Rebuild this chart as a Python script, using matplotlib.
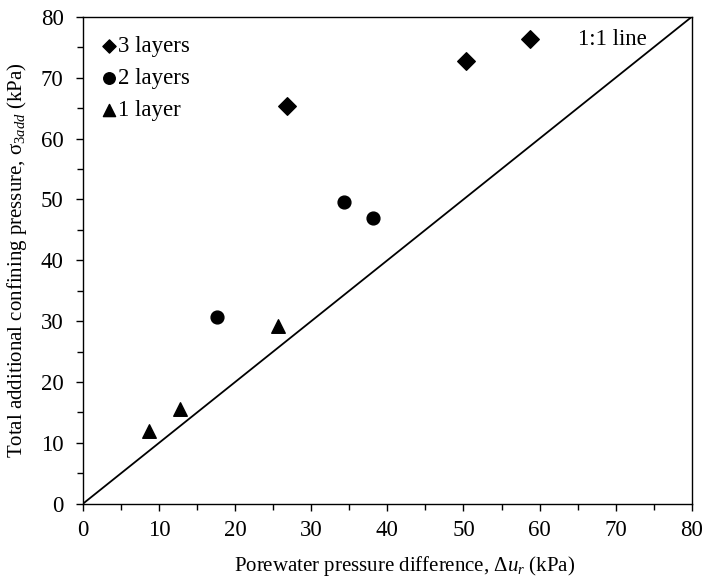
import numpy as np
import matplotlib
matplotlib.use("Agg")
import matplotlib.pyplot as plt

plt.rcParams["font.family"] = "Liberation Serif"
plt.rcParams["mathtext.fontset"] = "custom"
plt.rcParams["mathtext.rm"] = "Liberation Serif"
plt.rcParams["mathtext.it"] = "Liberation Serif:italic"

# Data
x_three = [26.8, 50.3, 58.7]
y_three = [65.3, 72.7, 76.4]

x_two = [17.6, 34.3, 38.1]
y_two = [30.6, 49.5, 46.9]

x_one = [8.7, 12.8, 25.6]
y_one = [12.0, 15.6, 29.2]

line_x = [0, 80]
line_y = [0, 80]

fig = plt.figure(figsize=(7.03, 5.81), dpi=100)
ax = fig.add_axes([0.118, 0.133, 0.866, 0.838])

ax.plot(line_x, line_y, color="black", linewidth=1.3, zorder=1)
ax.scatter(x_three, y_three, marker="D", s=80, color="black", label="3 layers", zorder=3)
ax.scatter(x_two, y_two, marker="o", s=85, color="black", label="2 layers", zorder=3)
ax.scatter(x_one, y_one, marker="^", s=95, color="black", label="1 layer", zorder=3)

ax.text(74.1, 76.2, "1:1 line", fontsize=16.5, ha="right", va="center")

ax.set_xlim(0, 80)
ax.set_ylim(0, 80)
ax.set_xticks(np.arange(0, 81, 10))
ax.set_yticks(np.arange(0, 81, 10))
ax.set_xticks(np.arange(5, 80, 10), minor=True)
ax.set_yticks(np.arange(5, 80, 10), minor=True)
ax.tick_params(axis="both", which="major", labelsize=16.5, length=5, width=1, direction="out")
ax.tick_params(axis="both", which="minor", length=4, width=1, direction="out")
ax.tick_params(axis="x", which="major", pad=7)
ax.tick_params(axis="y", which="major", pad=9)

ax.set_xlabel("Porewater pressure difference, Δ$u_r$ (kPa)", fontsize=15, va="center")
ax.xaxis.set_label_coords(0.528, -0.128)
ax.set_ylabel("Total additional confining pressure, σ$_{\\mathit{3add}}$ (kPa)", fontsize=15, va="center")
ax.yaxis.set_label_coords(-0.108, 0.5)

for s in ax.spines.values():
    s.set_linewidth(1.0)

leg = ax.legend(loc="upper left", frameon=False, fontsize=16.5, handletextpad=0.15,
                markerscale=0.9, borderaxespad=0.45, labelspacing=0.48, handlelength=0.55)
leg.legend_handles[0].set_sizes([45])

fig.savefig("out.png", dpi=100)
